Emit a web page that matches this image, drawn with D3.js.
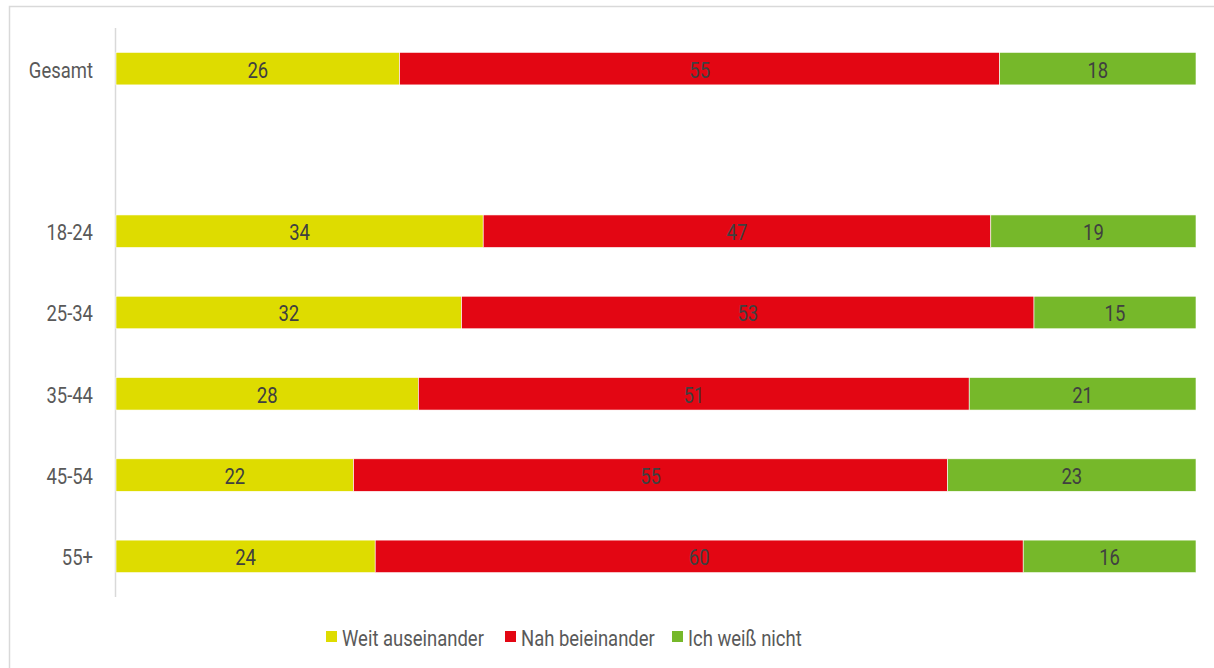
<!DOCTYPE html>
<head>
  <meta charset="utf-8">
  <script src="https://cdn.jsdelivr.net/npm/d3@7"></script>
  <style>
    body { margin:0; background:#fff; font-family:Roboto, "DejaVu Sans", sans-serif; }
  </style>
</head>
<body>
  <script>
    // Werte
    var categories = ["Gesamt", "", "18-24", "25-34", "35-44", "45-54", "55+"];
    var seriesNames = ["Weit auseinander", "Nah beieinander", "Ich weiß nicht"];
    var weit = [26, null, 34, 32, 28, 22, 24];
    var nah = [55, null, 47, 53, 51, 55, 60];
    var weissNicht = [18, null, 19, 15, 21, 23, 16];
    var colors = ["#DEDC00", "#E30613", "#76B82A"];

    var width = 1214, height = 668;
    var fs = 22, sx = 0.84;   // schmale Schrift nachbilden

    var svg = d3.select("body").append("svg")
      .attr("width", width)
      .attr("height", height);

    // schmal gestauchter Text
    function label(parent, px, py, txt, anchor, fill) {
      return parent.append("text")
        .attr("transform", "translate(" + px + "," + py + ") scale(" + sx + ",1)")
        .attr("dy", "0.36em")
        .attr("text-anchor", anchor)
        .attr("font-size", fs)
        .attr("fill", fill)
        .text(txt);
    }

    // Rahmen
    svg.append("rect")
      .attr("x", 9.5).attr("y", 6.5)
      .attr("width", width + 20).attr("height", height + 20)
      .attr("fill", "none").attr("stroke", "#d9d9d9").attr("stroke-width", 1.5);

    var rows = categories.map(function(c, i) {
      return { cat: c, vals: [weit[i], nah[i], weissNicht[i]] };
    });

    var x = d3.scaleLinear().domain([0, 1]).range([116, 1196]);
    var y = d3.scaleBand().domain(d3.range(categories.length)).range([28, 597]).paddingInner(0.6).paddingOuter(0.3);

    // Kategorie-Achse
    svg.append("line")
      .attr("x1", 115.5).attr("x2", 115.5)
      .attr("y1", 28).attr("y2", 597)
      .attr("stroke", "#d9d9d9").attr("stroke-width", 1.5);

    rows.forEach(function(r, i) {
      label(svg, 93, y(i) + y.bandwidth() / 2 + 1, r.cat, "end", "#595959");
    });

    rows.forEach(function(r, i) {
      if (r.vals[0] == null) return;
      var total = d3.sum(r.vals);
      var x0 = 0;
      var g = svg.append("g");
      r.vals.forEach(function(v, k) {
        var a = x0 / total, b = (x0 + v) / total;
        g.append("rect")
          .attr("x", x(a))
          .attr("y", y(i))
          .attr("width", x(b) - x(a))
          .attr("height", y.bandwidth())
          .attr("fill", colors[k])
          .attr("stroke", "#fff").attr("stroke-width", 0.6);
        label(g, (x(a) + x(b)) / 2, y(i) + y.bandwidth() / 2 + 1, v, "middle", "#404040");
        x0 += v;
      });
    });

    // Legende
    var legX = [326, 505, 672];
    seriesNames.forEach(function(s, i) {
      var g = svg.append("g").attr("transform", "translate(" + legX[i] + ",631)");
      g.append("rect")
        .attr("width", 11).attr("height", 11)
        .attr("fill", colors[i]);
      label(g, 16, 7, s, "start", "#595959");
    });
  </script>
</body>
